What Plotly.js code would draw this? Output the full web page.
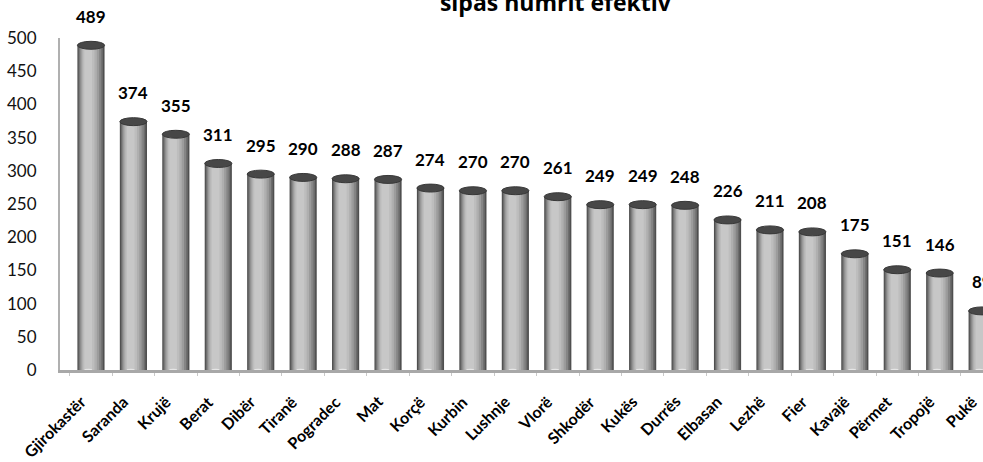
<!DOCTYPE html>
<html>
<head>
<meta charset="utf-8">
<script src="https://cdn.plot.ly/plotly-3.0.1.min.js"></script>
<style>html,body{margin:0;padding:0;background:#fff;}#chart{width:983px;height:462px;}</style>
</head>
<body>
<div id="chart"></div>
<script>
const titleText = "sipas numrit efektiv";
const categories = ["Gjirokastër","Saranda","Krujë","Berat","Dibër","Tiranë","Pogradec","Mat","Korçë","Kurbin","Lushnje","Vlorë","Shkodër","Kukës","Durrës","Elbasan","Lezhë","Fier","Kavajë","Përmet","Tropojë","Pukë"];
const values = [489,374,355,311,295,290,288,287,274,270,270,261,249,249,248,226,211,208,175,151,146,89];
const tickVals = [0,50,100,150,200,250,300,350,400,450,500];

const W = 0.64;
// cylinder shading layers: [width fraction, color, shift fraction]
const layers = [
  [1.00, '#4f4f4f', 0.00],
  [0.90, '#6c6c6c', -0.01],
  [0.80, '#858585', -0.02],
  [0.68, '#9c9c9c', -0.04],
  [0.55, '#afafaf', -0.06],
  [0.42, '#bdbdbd', -0.08],
  [0.28, '#c7c7c7', -0.10]
];
const idx = categories.map((c,i)=>i);
const bounds = categories.map((c,i)=>i-0.5).concat([categories.length-0.5]);
const traces = layers.map(([f,col,s]) => ({
  type:'bar', x: idx, y: values,
  width: W*f, offset: -W*f/2 + s*W,
  marker:{color:col, line:{width:0}},
  hoverinfo:'skip', showlegend:false
}));

const shapes = [];
values.forEach((v,i)=>{
  shapes.push({type:'circle', xref:'x', yref:'y', x0:i-W/2, x1:i+W/2, y0:v-6, y1:v+6,
    fillcolor:'#474747', line:{color:'#383838', width:1}, layer:'above'});
  shapes.push({type:'circle', xref:'x', yref:'y', x0:i-W*0.25, x1:i+W*0.05, y0:-2, y1:2,
    fillcolor:'#e6e6e6', line:{width:0}, layer:'above'});
});

const valueLabels = values.map((v,i)=>({
  x:i, y:v, xref:'x', yref:'y', text:String(v), showarrow:false,
  yanchor:'middle', yshift:29,
  font:{family:'Lato, "Open Sans", sans-serif', size:17, color:'#000', weight:'bold'}
}));
const catLabels = categories.map((c,i)=>({
  x:i, y:0, xref:'x', yref:'y', text:c, showarrow:false,
  textangle:-45, xanchor:'right', yanchor:'top', xshift:1, yshift:-19,
  font:{family:'Lato, "Open Sans", sans-serif', size:16, color:'#000', weight:'bold'}
}));

const layout = {
  width:983, height:462,
  margin:{l:60, r:0, t:38, b:92},
  paper_bgcolor:'#fff', plot_bgcolor:'#fff',
  barmode:'overlay',
  title:{text:'<b>'+titleText+'</b>', x:0.565, xanchor:'center', y:0.994, yanchor:'middle',
    font:{family:'"Open Sans", Lato, sans-serif', size:23, color:'#000'}},
  xaxis:{
    type:'linear', range:[-0.73, 21.02],
    tickmode:'array', tickvals: idx, showticklabels:false,
    showgrid:false, zeroline:false,
    showline:true, linecolor:'#a8a8a8', linewidth:3,
    ticks:'',
    minor:{tickmode:'array', tickvals: bounds, ticks:'outside', ticklen:3, tickcolor:'#c8c8c8', tickwidth:1, showgrid:false}
  },
  yaxis:{
    range:[0,500], tickmode:'array', tickvals: tickVals,
    showgrid:false, zeroline:false,
    showline:true, linecolor:'#b0b0b0', linewidth:2,
    ticks:'', ticklabelstandoff:18,
    tickfont:{family:'Lato, "Open Sans", sans-serif', size:17, color:'#111'}
  },
  shapes: shapes,
  annotations: valueLabels.concat(catLabels)
};

Plotly.newPlot('chart', traces, layout, {displayModeBar:false, staticPlot:true});
</script>
</body>
</html>
